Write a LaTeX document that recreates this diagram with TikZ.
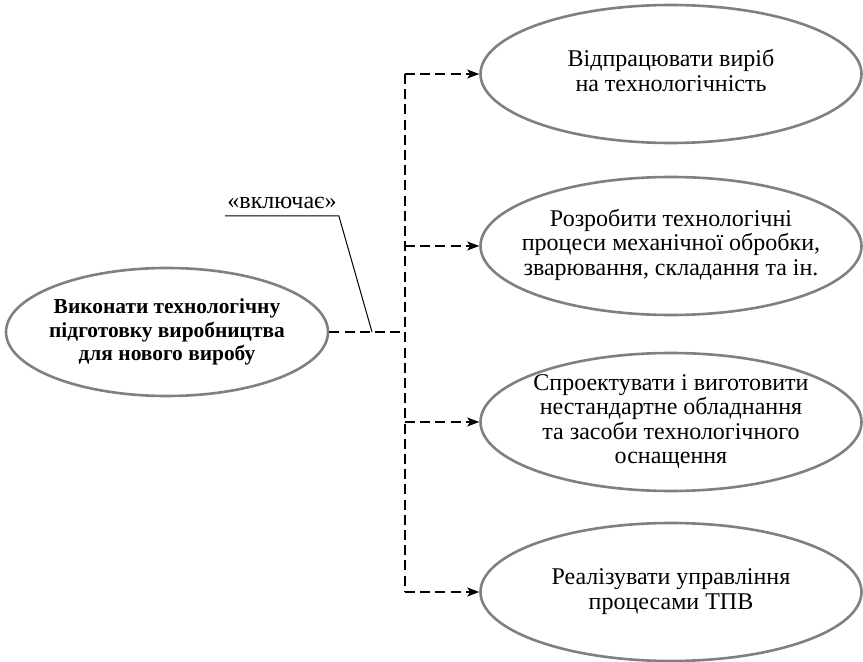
\documentclass[tikz,border=0pt]{standalone}
\usepackage{fontspec}
\setmainfont{Liberation Serif}
\usetikzlibrary{shapes.geometric,arrows.meta}
\newcommand{\casetext}[1]{\makebox[0pt]{\raisebox{-3pt}[0pt][0pt]{\begin{tabular}{@{}c@{}}#1\end{tabular}}}}

\begin{document}
\begin{tikzpicture}[x=0.5pt, y=-0.5pt,
        usecase/.style={ellipse, draw=gray, line width=1.3pt, inner sep=0pt,
            minimum width=190.5pt, minimum height=69pt, font=\fontsize{12}{12.3}\selectfont},
        dep/.style={black, line width=0.8pt, dash pattern=on 5pt off 2.6pt},
        deparrow/.style={dep, -{Stealth[length=6pt, width=4.5pt, inset=1.5pt]}}]
        \useasboundingbox (0,0) rectangle (863,662);
        \node[usecase, minimum width=161pt, minimum height=64pt, font=\fontsize{10.7}{11.6}\selectfont\bfseries] (main) at (167,332)
            {\casetext{Виконати технологічну\\підготовку виробництва\\для нового виробу}};
        \node[usecase] (case1) at (671,74) {\casetext{Відпрацювати виріб\\на технологічність}};
        \node[usecase] (case2) at (671,246) {\casetext{Розробити технологічні\\процеси механічної обробки,\\зварювання, складання та ін.}};
        \node[usecase] (case3) at (671,422) {\casetext{Спроектувати і виготовити\\нестандартне обладнання\\та засоби технологічного\\оснащення}};
        \node[usecase] (case4) at (671,592) {\casetext{Реалізувати управління\\процесами ТПВ}};
        \coordinate (junction) at (405,332);
        \draw[dep] (main.east) -- (junction);
        \draw[dep] (junction |- case1.west) -- (junction |- case4.west);
        \foreach \n in {1,...,4}
            \draw[deparrow] (junction |- case\n.west) -- (case\n.west);
        % note for the include relation
        \node[anchor=south, inner xsep=1pt, inner ysep=3.5pt, font=\fontsize{12}{12.5}\selectfont] (incl) at (282,216) {«включає»};
        \coordinate (notefoot) at (372,332);
        \draw[line width=0.5pt] (incl.south west) -- (incl.south east) -- (notefoot);
    \end{tikzpicture}
\end{document}
